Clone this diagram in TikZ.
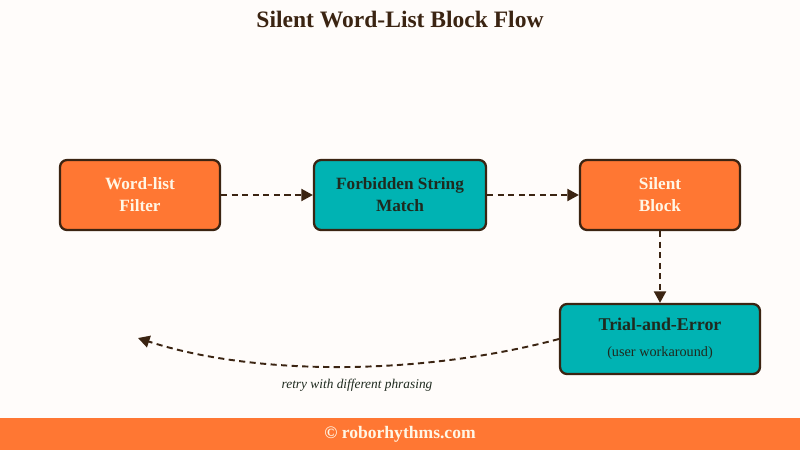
\documentclass[tikz,border=0pt]{standalone}
\usepackage{fontspec}
\setmainfont{Liberation Serif}
\usetikzlibrary{positioning,arrows.meta}
\definecolor{paper}{RGB}{255,252,250}
\definecolor{flame}{RGB}{255,119,51}
\definecolor{lagoon}{RGB}{0,179,179}
\definecolor{edge}{RGB}{59,36,18}
\definecolor{cream}{RGB}{255,246,229}
\definecolor{ink}{RGB}{31,42,31}
\begin{document}
\begin{tikzpicture}[x=0.02cm,y=-0.02cm,
box/.style={draw=edge,line width=1.3pt,rounded corners=4pt,minimum width=3.2cm,minimum height=1.4cm,align=center,font=\bfseries\fontsize{9.8}{12.5}\selectfont},
hotbox/.style={box,fill=flame,text=cream},
coolbox/.style={box,fill=lagoon,text=ink},
flow/.style={draw=edge,line width=1.1pt,dash pattern=on 3.5pt off 2.5pt,-{Triangle[length=0.23cm,width=0.24cm]}}]
\fill[paper] (0,0) rectangle (800,450);
\fill[flame] (0,418) rectangle (800,450);
\node[font=\bfseries\fontsize{13.4}{16}\selectfont,text=edge] (title) at (400,20) {Silent Word-List Block Flow};
% main row
\node[hotbox] (filter) at (140,195) {Word-list\\Filter};
\node[coolbox,minimum width=3.44cm] (match) at (400,195) {Forbidden String\\Match};
\node[hotbox] (block) at (660,195) {Silent\\Block};
\node[coolbox,minimum width=4cm] (trial) at (660,339) {{\fontsize{10.2}{12}\selectfont Trial-and-Error}\\[2pt]{\mdseries\fontsize{8.1}{9}\selectfont(user workaround)}};
\coordinate (retryend) at (138,338);
\draw[flow] (filter) -- (match);
\draw[flow] (match) -- (block);
\draw[flow] (block) -- (trial);
\draw[flow] (trial.west) .. controls (420,376) and (254,376) .. (retryend);
\node[font=\itshape\fontsize{7.6}{9}\selectfont,text=ink] (retry) at (357,385) {retry with different phrasing};
\node[font=\bfseries\fontsize{10}{12}\selectfont,text=cream] (credit) at (400,434) {© roborhythms.com};
\end{tikzpicture}
\end{document}
